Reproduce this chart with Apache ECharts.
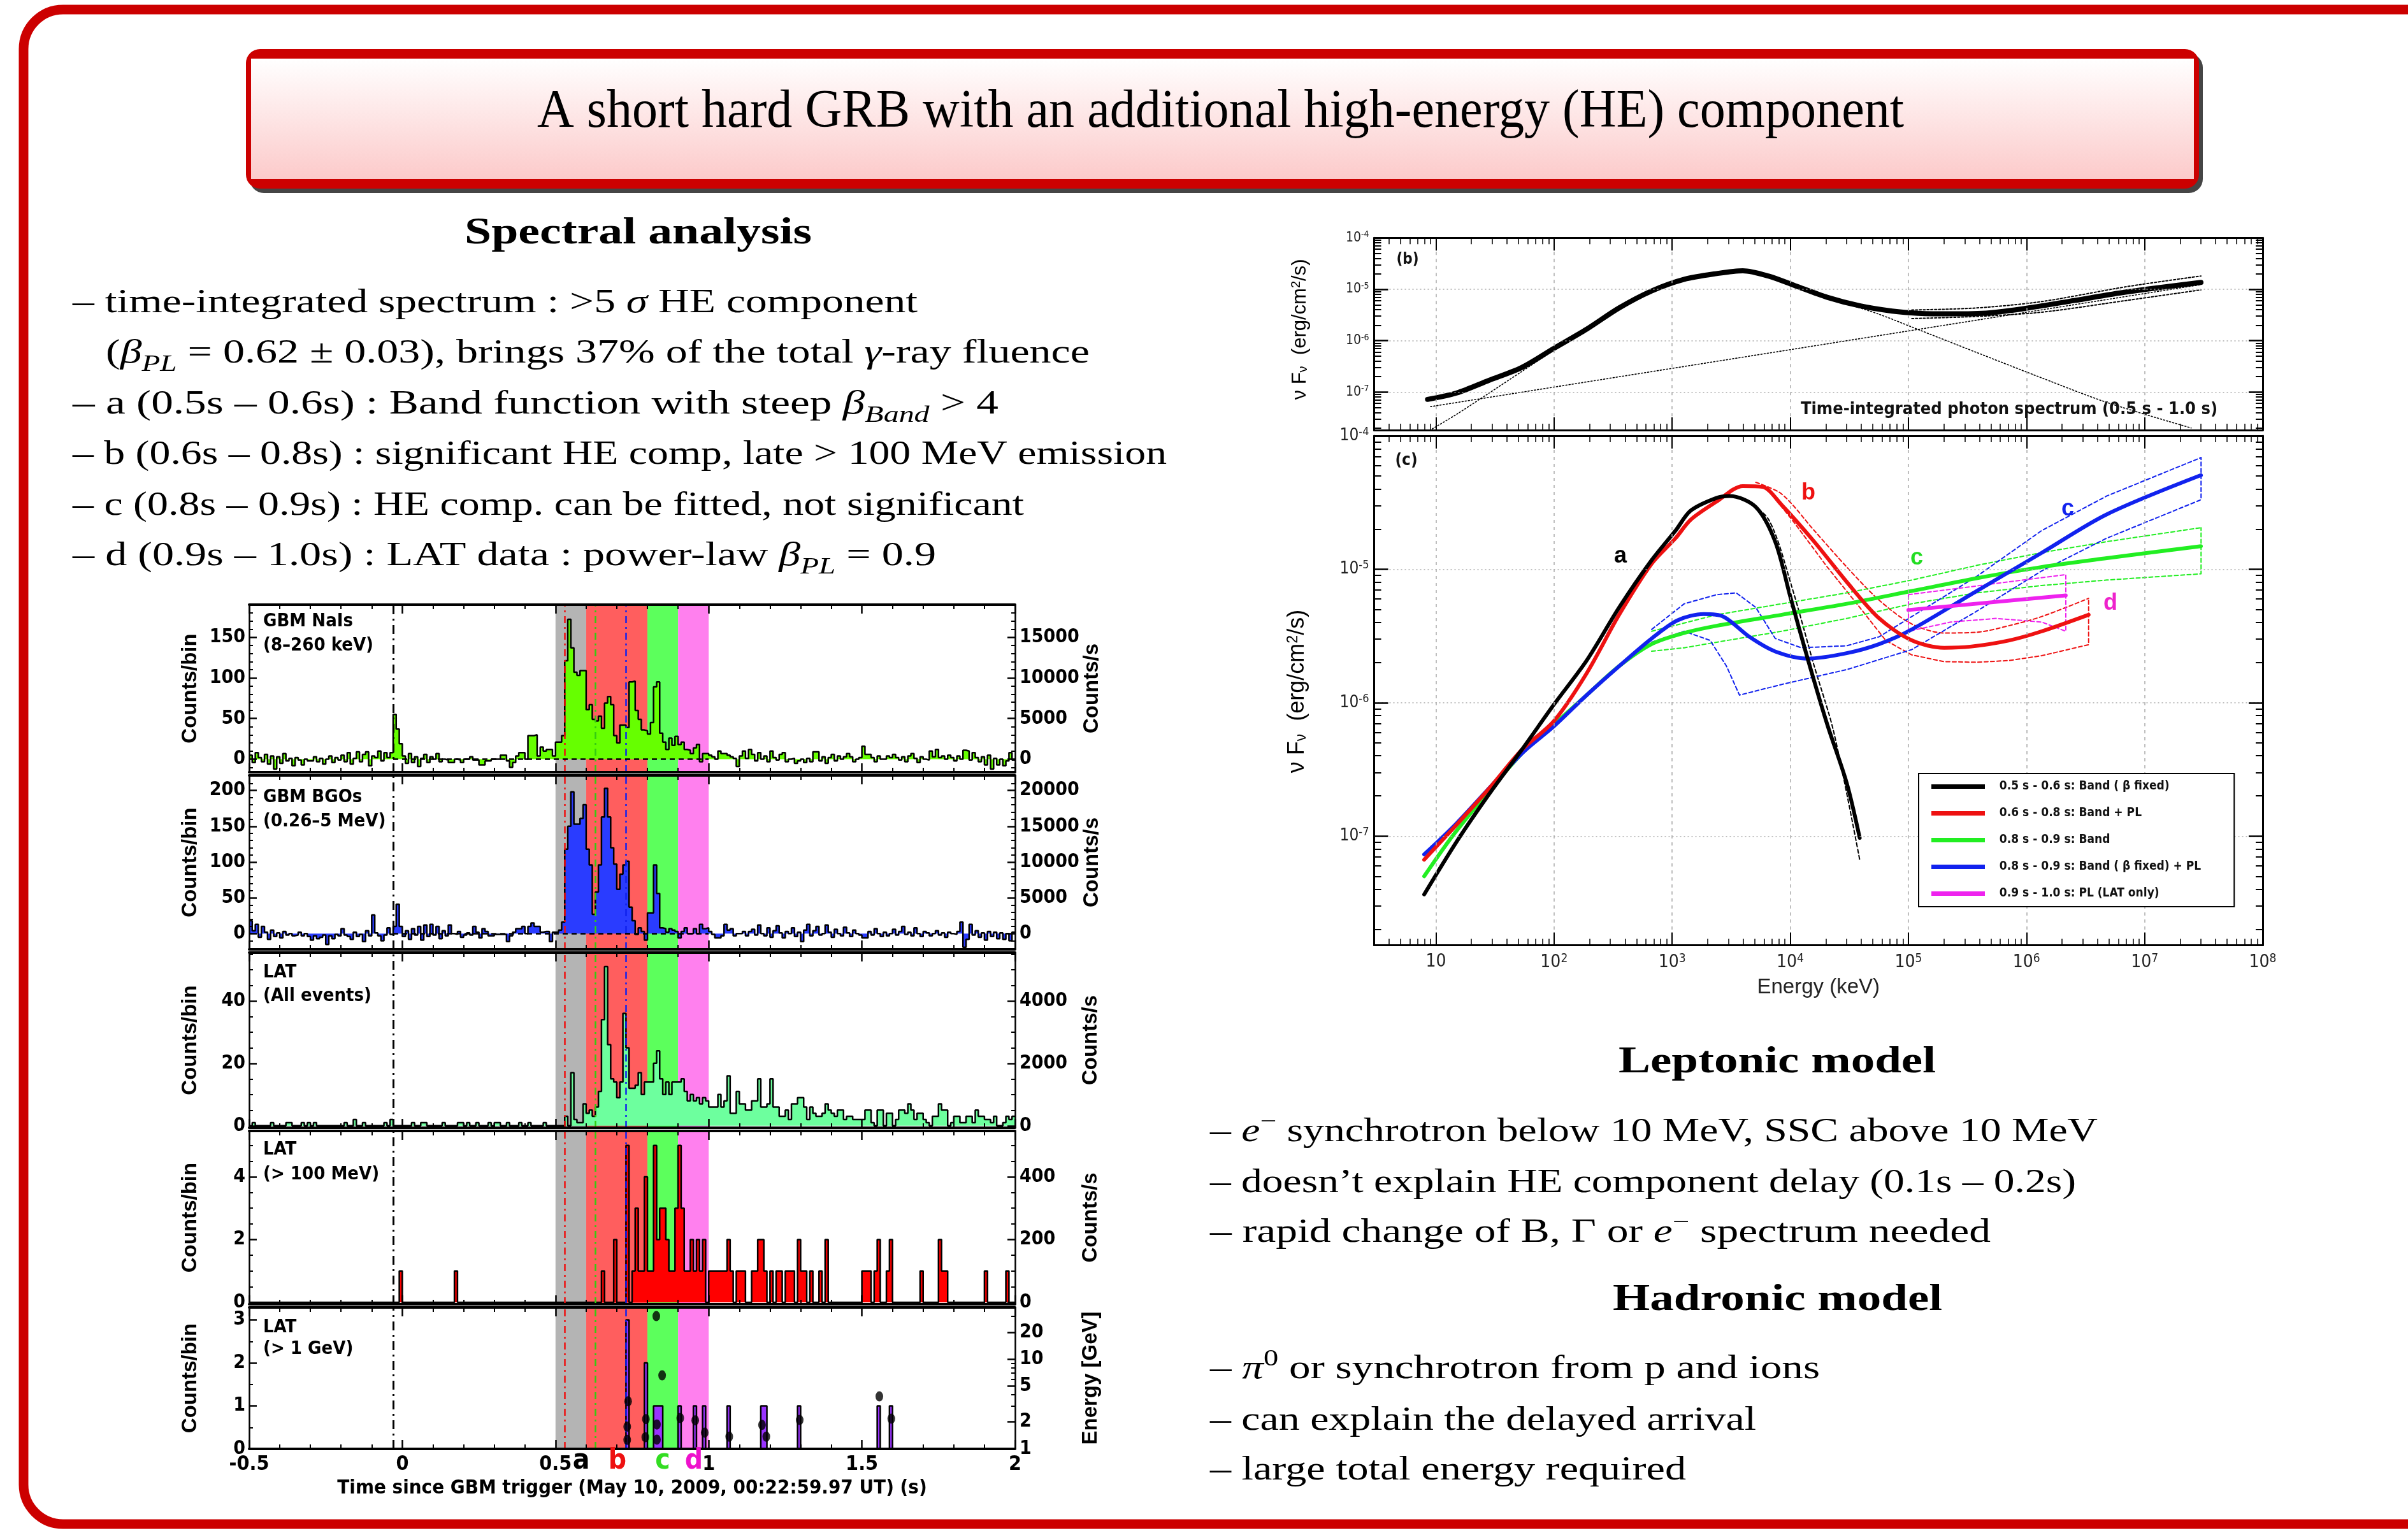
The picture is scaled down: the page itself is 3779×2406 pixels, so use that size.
<!DOCTYPE html>
<html>
<head>
<meta charset="utf-8">
<script src="https://cdn.jsdelivr.net/npm/echarts@6.0.0/dist/echarts.min.js"></script>
<style>
html,body{margin:0;padding:0;background:#ffffff;}
#chart{width:3779px;height:2406px;}
</style>
</head>
<body>
<div id="chart"></div>
<script>
// ======================= DATA =======================
// Light curves: 0.01 s bins starting at t = -0.50 s (250 bins up to 2.0 s)
const T_START = -0.5, T_STEP = 0.01, T_END = 2.0;

// GBM NaIs (8-260 keV), counts/bin
const gbmNaiCounts = [
  5,-4,8,2,-3,6,-6,4,-12,3,-5,7,-2,1,-8,2,-1,-7,0,-2,-2,3,-3,1,-6,0,4,-4,2,-1,5,-3,8,-6,1,9,-3,6,9,-8,4,2,10,-2,8,2,8,
  55,37,19,4,-5,7,-4,3,-9,1,6,-4,3,0,7,-3,0,-1,-4,-4,0,-1,-4,0,0,3,
  -1,-1,-7,-7,-2,-2,0,0,0,5, 5,-2,-10,-4,4,8,8,0,29,29, 30,4,15,10,12,12,4,21,21,29,
  121,172,137,107,103,109,109,61,67,49, 47,53,38,69,77,67,29,20,42,42, 39,95,96,60,49,36,35,31,45,89,
  95,32,21,12,26,17,28,18,21,12, 11,7,14,18,-3,7,7,5,3,0, 10,7,7,5,3,1,-9,4,10,1, 12,
  6,-2,8,0,4,-3,10,2,-1,6, 8,-3,0,1,-5,-2,0,-4,1,-3, 9,9,-2,3,-5,2,6,-2,4,0, 3,7,3,-3,0,2,16,6,6,2,
  -3,4,0,0,4,2,6,2,-1,3, -3,4,7,1,-4,3,0,-1,10,3, 12,2,4,0,5,2,-2,4,0,11, 10,-1,8,2,-3,3,-7,5,-12,1,
  -7,0,-8,-2,8,-1
];
// GBM BGOs (0.26-5 MeV), counts/bin
const gbmBgoCounts = [
  18,4,13,-5,10,2,-8,5,-4,1, -6,3,-2,0,-3,-2,2,-3,0,-4, -9,-3,-7,-5,-2,-15,-3,-7,-1,-3, 7,-2,-4,-8,2,-4,-1,-11,4,-3,
  26,1,-3,-10,-2,8,-1,10,41,10, -4,4,-8,7,-2,10,-9,12,-4,13, -2,10,-7,4,-3,12,0,-1,3,-5, -2,1,-2,
  10,2,-6,7,3,-3,-3,-1,-1,-1, -1,-11,-3,2,7,7,10,0,10,15, 10,10,2,3,3,-11,2,2,5,16,
  118,150,198,153,153,161,180,118,96,27, 58,96,163,203,163,120,97,62,83,96, 101,37,18,-1,8,3,-9,29,29,96,
  56,8,7,2,7,5,3,-6,3,8, 0,0,7,0,13,7,8,3,-1,-6, -6,-3,13,5,7,-3,0,0,3,-3, 3,
  6,-2,12,0,-3,8,-5,4,11,1, -6,3,0,8,-4,2,-11,5,13,-3, 4,10,-2,0,12,2,-5,6,0,-3, 9,1,-4,5,0,-2,-6,-6,3,-2,
  7,0,-4,2,-3,0,6,-2,3,10, -1,2,-3,8,0,-4,3,1,-3,0, 4,-2,1,-5,2,0,-1,3,16,-19, -8,13,-2,4,-5,1,-9,3,-4,2,
  -7,1,-8,0,-10,2
];
// LAT all events, counts/bin
const latAllCounts = [
  0,1,0,0,0,0,0,1,0,0, 0,0,1,1,0,0,0,1,0,1, 0,1,0,0,0,0,0,0,0,0, 0,1,0,0,2,0,0,1,0,0, 0,0,0,0,1,0,2,0,0,0,
  0,0,0,1,0,0,1,1,0,0, 0,0,0,1,0,0,0,0,1,1, 0,1,0,0,1,0,0,0,1,0, 1,1,0,0,1,0,0,0,1,0, 0,1,0,0,0,0,1,0,0,0,
  0,0,0,3,0,17,2,1,1,7, 4,5,3,6,11,34,51,26,15,14, 9,14,36,25,12,12,13,17,10,14, 14,14,20,24,15,10,14,10,14,14,
  14,15,11,8,10,8,9,7,9,8,
  6,6,6,10,6,8,16,4,4,11,7,7,5,5,
  8,8,15,6,6,7,15,6,6,3, 3,5,2,7,7,9,9,6,2,6, 4,3,3,4,7,5,4,3,5,5, 2,3,3,2,2,2,2,5,5,1,
  0,5,5,0,4,4,0,2,5,5, 4,7,5,2,4,4,2,1,0,3, 3,7,5,5,0,1,3,3,1,1, 3,3,1,5,3,3,2,2,1,3, 0,0,1,3,2,3
];
// LAT > 100 MeV: non-empty bins (bin start time, counts)
const lat100Times = [-0.01,0.17,0.65,0.69,0.73,0.75,0.76,0.77,0.78,0.79,0.80,0.81,0.82,0.83,0.84,0.85,0.86,0.87,0.88,0.89,0.90,0.91,0.92,0.93,0.94,0.95,0.96,0.97,0.98,
  1.00,1.01,1.02,1.03,1.04,1.05,1.06,1.07,1.09,1.10,1.11,1.14,1.15,1.16,1.17,1.18,1.20,1.22,1.23,1.25,1.26,1.27,1.29,1.30,1.31,1.33,1.36,1.38,
  1.50,1.51,1.52,1.54,1.55,1.58,1.59,1.69,1.75,1.76,1.77,1.90,1.97];
const lat100Counts = [1,1,1,2,5,1,3,1,1,4,1,1,5,2,3,3,2,1,1,3,5,3,1,1,2,1,2,1,2,
  1,1,1,1,1,1,2,1,1,1,1,1,1,2,2,1,1,1,1,1,1,1,2,1,1,1,1,2,
  1,1,1,1,2,1,2,1,2,1,1,1,1];
// LAT > 1 GeV: non-empty bins
const lat1GeVTimes = [0.73,0.79,0.82,0.83,0.84,0.90,0.95,0.98,1.06,1.17,1.18,1.29,1.55,1.59];
const lat1GeVCounts = [3,2,1,1,1,1,1,1,1,1,1,1,1,1];
// individual > 1 GeV photons: arrival time (s), energy (GeV)
const photonTimes    = [0.734,0.734,0.737,0.793,0.795,0.829,0.848,0.831,0.831,0.907,0.956,0.987,1.067,1.174,1.188,1.297,1.557,1.596];
const photonEnergies = [1.26, 1.77, 3.39, 1.35, 2.15, 30.2, 6.6,  1.87, 1.27, 2.21, 2.08, 1.52, 1.37, 1.85, 1.37, 2.10, 3.85, 2.17];

// time intervals a,b,c,d and marker lines
const bandStarts = [0.5, 0.6, 0.8, 0.9];
const bandEnds   = [0.6, 0.8, 0.9, 1.0];
const bandColors = ['#b4b4b4', '#ff5e5e', '#5cff5c', '#ff80ee'];
const markerTimes  = [-0.03, 0.531, 0.633, 0.732];
const markerColors = ['#000000', '#ee1111', '#33cc11', '#1122ee'];

// ---- Spectra, panel (b): time-integrated 0.5-1.0 s (keV, erg/cm2/s)
const specB_totalE = [8.5,15,28.3,53.2,100,189,356,671,1265,2386,3963,6577,10920,20570,38740,72940,121000,229000,489000,1040000,2540000,7000000,30000000];
const specB_totalF = [7.2e-8,9.6e-8,1.7e-7,3.0e-7,7.1e-7,1.67e-6,4.33e-6,9.27e-6,1.56e-5,2.02e-5,2.29e-5,1.8e-5,1.18e-5,6.97e-6,4.77e-6,3.76e-6,3.41e-6,3.32e-6,3.48e-6,4.33e-6,6.04e-6,8.84e-6,1.36e-5];
const specB_bandE = [9.3,15,28.3,53.2,100,189,356,671,1265,2386,3963,8470,30060,56620,107000,379000,1350000,4790000,24800000];
const specB_bandF = [1.92e-8,3.7e-8,9.6e-8,2.5e-7,6.5e-7,1.6e-6,4.3e-6,9.2e-6,1.55e-5,2.0e-5,2.25e-5,1.42e-5,5.24e-6,3.26e-6,1.84e-6,5.88e-7,1.88e-7,6.28e-8,2.0e-8];
const specB_plE = [9.0, 30000000];
const specB_plF = [5.2e-8, 1.23e-5];
const specB_upE = [107000,379000,1350000,7000000,30000000];
const specB_upF = [3.94e-6,4.33e-6,5.77e-6,1.12e-5,1.81e-5];
const specB_loE = [107000,379000,1350000,7000000,30000000];
const specB_loF = [2.69e-6,2.96e-6,3.58e-6,6.04e-6,9.73e-6];

// ---- Spectra, panel (c): time-resolved
const specA_E = [7.96,15,28.3,53.2,100,189,356,671,1070,1436,2386,3076,5100,7460,10000,14060,20570,30060,38740];
const specA_F = [3.66e-8,9.1e-8,2.07e-7,4.42e-7,9.7e-7,2.07e-6,5.17e-6,1.17e-5,1.95e-5,2.75e-5,3.43e-5,3.54e-5,2.93e-5,1.61e-5,6.25e-6,2.13e-6,6.87e-7,2.5e-7,9.7e-8];
const specA_dashE = [3963,6577,10230,15960,23330,38730];
const specA_dashF = [3.43e-5,2.35e-5,7.55e-6,1.88e-6,6.05e-7,6.65e-8];
const specBPL_E = [7.96,15,28.3,53.2,100,189,356,671,1070,1436,2386,3963,5800,8470,15950,30060,56620,107000,201000,334000,715000,1350000,3360000];
const specBPL_F = [6.66e-8,1.22e-7,2.28e-7,4.42e-7,7.3e-7,1.66e-6,4.56e-6,1.1e-5,1.71e-5,2.35e-5,3.22e-5,4.2e-5,4.15e-5,3.03e-5,1.61e-5,8.04e-6,4.28e-6,2.93e-6,2.58e-6,2.63e-6,2.93e-6,3.43e-6,4.56e-6];
const specBPL_upE = [5105,8472,15960,30060,56620,106900,201400,379300,714500,1346000,3357000];
const specBPL_upF = [4.48e-5,3.66e-5,1.95e-5,1.04e-5,5.86e-6,3.89e-6,3.33e-6,3.37e-6,3.78e-6,4.42e-6,6.05e-6];
const specBPL_loE = [6577,10920,20560,38730,64270,106900,201400,379300,714500,1346000,3357000,3357000];
const specBPL_loF = [3.89e-5,2.21e-5,1.04e-5,5.18e-6,2.93e-6,2.28e-6,2.03e-6,2.01e-6,2.07e-6,2.25e-6,2.72e-6,6.05e-6];
const specCband_E = [7.96,15,53.2,100,189,356,671,1265,2386,8470,30060,107000,379000,1350000,4790000,30000000];
const specCband_F = [5.0e-8,1.1e-7,4.15e-7,6.87e-7,1.14e-6,1.88e-6,2.75e-6,3.33e-6,3.77e-6,4.56e-6,5.51e-6,6.87e-6,8.57e-6,1.04e-5,1.21e-5,1.49e-5];
const specCband_upE = [671,2386,8472,30060,106900,379300,1346000,4786000,30060000];
const specCband_upF = [3.43e-6,4.56e-6,5.51e-6,6.65e-6,8.30e-6,1.069e-5,1.333e-5,1.61e-5,2.05e-5];
const specCband_loE = [671,1265,2386,8472,30060,106900,379300,1346000,4786000,30060000,30060000];
const specCband_loF = [2.43e-6,2.58e-6,2.84e-6,3.43e-6,4.28e-6,5.51e-6,6.65e-6,7.55e-6,8.30e-6,9.24e-6,2.05e-5];
const specCpl_E = [7.96,15,53.2,100,189,356,671,1114,1849,2709,4497,7460,14060,30060,56620,107000,379000,1350000,4790000,30000000];
const specCpl_F = [7.3e-8,1.25e-7,4.15e-7,6.66e-7,1.14e-6,1.88e-6,3.03e-6,4.15e-6,4.61e-6,4.42e-6,3.12e-6,2.42e-6,2.14e-6,2.35e-6,2.75e-6,3.54e-6,6.87e-6,1.33e-5,2.58e-5,5.07e-5];
const specCpl_upE = [671,1265,2386,3493,5105,7464,12390,30060,56620,106900,379300,1346000,4786000,30060000];
const specCpl_upF = [3.54e-6,5.51e-6,6.45e-6,6.65e-6,5.18e-6,3.03e-6,2.58e-6,2.67e-6,3.12e-6,4.42e-6,8.85e-6,1.95e-5,3.54e-5,6.87e-5];
const specCpl_loE = [671,1265,2099,2884,3715,8472,30060,106900,379300,1346000,4786000,30060000,30060000];
const specCpl_loF = [2.84e-6,3.43e-6,2.93e-6,1.88e-6,1.14e-6,1.37e-6,1.77e-6,2.5e-6,4.85e-6,9.72e-6,1.71e-5,3.32e-5,6.87e-5];
const specD_E = [100000, 2150000];
const specD_F = [4.95e-6, 6.37e-6];
const specD_boxE = [100200,2153000,2153000,1346000,554600,228600,100200,100200];
const specD_boxF = [6.45e-6,9.12e-6,3.43e-6,4.02e-6,4.28e-6,4.02e-6,3.43e-6,6.45e-6];
const legendNames = ['0.5 s - 0.6 s: Band ( \u03b2 fixed)', '0.6 s - 0.8 s: Band + PL', '0.8 s - 0.9 s: Band', '0.8 s - 0.9 s: Band ( \u03b2 fixed) + PL', '0.9 s - 1.0 s: PL (LAT only)'];

// ======================= HELPERS =======================
const NARROW = "'Liberation Sans Narrow','DejaVu Sans Condensed','Liberation Sans',Arial,sans-serif";
const SANS = "'Liberation Sans','DejaVu Sans',Arial,sans-serif";
const SERIF = "'Liberation Serif','DejaVu Serif',serif";

function binsToLine(vals){
  const d = vals.map((v,i)=>[+(T_START + i*T_STEP).toFixed(2), v]);
  d.push([T_END, vals[vals.length-1]]);
  return d;
}
function sparseToBins(times, counts){
  const a = new Array(250).fill(0);
  times.forEach((t,i)=>{ a[Math.round((t - T_START)/T_STEP)] = counts[i]; });
  return a;
}
function zip(E,F){ return E.map((e,i)=>[e, F[i]]); }

const grids=[], xAxes=[], yAxes=[], series=[], graphics=[];
function addGrid(l,t,w,h){ grids.push({left:l, top:t, width:w, height:h, show:false, containLabel:false}); return grids.length-1; }
function addX(o){ xAxes.push(o); return xAxes.length-1; }
function addY(o){ yAxes.push(o); return yAxes.length-1; }

// ---------- slide text layout (serif, LaTeX-like) ----------
const mctx = document.createElement('canvas').getContext('2d');
function fontStr(kind, size){
  const st = (kind==='i' || kind==='sub') ? 'italic ' : '';
  const wt = (kind==='b') ? 'bold ' : '';
  return st + wt + size + 'px ' + SERIF;
}
function slideLine(segs, x0, x1, baseline, size){
  const parts = segs.map(([t,k])=>{
    const small = (k==='sub' || k==='sup');
    const fs = small ? Math.round(size*0.7) : size;
    const f = fontStr(k, fs);
    mctx.font = f;
    return {t, k, fs, f, w: mctx.measureText(t).width};
  });
  const natural = parts.reduce((s,p)=>s+p.w, 0);
  const sx = (x1 - x0)/natural;
  let x = x0;
  parts.forEach(p=>{
    let base = baseline;
    if(p.k==='sub') base += size*0.22;
    if(p.k==='sup') base -= size*0.40;
    graphics.push({type:'text', x:x, y:base - p.fs*0.34, scaleX:sx, silent:true, z:5,
      style:{text:p.t, font:p.f, fill:'#000', align:'left', verticalAlign:'middle'}});
    x += p.w*sx;
  });
}

// ---------- frame and title box ----------
graphics.push({type:'rect', silent:true, z:-10, shape:{x:37,y:15,width:3820,height:2377,r:62}, style:{fill:'none', stroke:'#cc0000', lineWidth:15}});
graphics.push({type:'rect', silent:true, z:-9, shape:{x:392,y:84,width:3065,height:219,r:22}, style:{fill:'#454545'}});
graphics.push({type:'rect', silent:true, z:-8, shape:{x:386,y:77,width:3065,height:219,r:22}, style:{fill:'#cc0000'}});
graphics.push({type:'rect', silent:true, z:-7, shape:{x:394,y:92,width:3049,height:189},
  style:{fill:new echarts.graphic.LinearGradient(0,0,0,1,[{offset:0,color:'#ffffff'},{offset:1,color:'#fccaca'}])}});

slideLine([['A short hard GRB with an additional high-energy (HE) component','n']], 843, 2988, 205, 84);
slideLine([['Spectral analysis','b']], 729, 1274, 387, 60);
slideLine([['\u2013 time-integrated spectrum : >5 ','n'],['\u03c3','i'],[' HE component','n']], 114, 1440, 494, 52);
slideLine([['(','n'],['\u03b2','i'],['PL','sub'],[' = 0.62 \u00b1 0.03), brings 37% of the total ','n'],['\u03b3','i'],['-ray fluence','n']], 166, 1710, 573, 52);
slideLine([['\u2013 a (0.5s \u2013 0.6s) : Band function with steep ','n'],['\u03b2','i'],['Band','sub'],[' > 4','n']], 114, 1567, 653, 52);
slideLine([['\u2013 b (0.6s \u2013 0.8s) : significant HE comp, late > 100 MeV emission','n']], 114, 1831, 732, 52);
slideLine([['\u2013 c (0.8s \u2013 0.9s) : HE comp. can be fitted, not significant','n']], 114, 1607, 812, 52);
slideLine([['\u2013 d (0.9s \u2013 1.0s) : LAT data : power-law ','n'],['\u03b2','i'],['PL','sub'],[' = 0.9','n']], 114, 1469, 891, 52);

slideLine([['Leptonic model','b']], 2540, 3038, 1688, 60);
slideLine([['\u2013 ','n'],['e','i'],['\u2212','sup'],[' synchrotron below 10 MeV, SSC above 10 MeV','n']], 1899, 3292, 1795, 52);
slideLine([['\u2013 doesn\u2019t explain HE component delay (0.1s \u2013 0.2s)','n']], 1899, 3258, 1875, 52);
slideLine([['\u2013 rapid change of B, \u0393 or ','n'],['e','i'],['\u2212','sup'],[' spectrum needed','n']], 1899, 3124, 1953, 52);
slideLine([['Hadronic model','b']], 2531, 3048, 2061, 60);
slideLine([['\u2013 ','n'],['\u03c0','i'],['0','sup'],[' or synchrotron from p and ions','n']], 1899, 2856, 2167, 52);
slideLine([['\u2013 can explain the delayed arrival','n']], 1899, 2756, 2248, 52);
slideLine([['\u2013 large total energy required','n']], 1899, 2646, 2326, 52);

// ======================= LIGHT CURVES =======================
const LC_LEFT = 391, LC_WIDTH = 1202;
const lat100Bins = sparseToBins(lat100Times, lat100Counts);
const lat1GeVBins = sparseToBins(lat1GeVTimes, lat1GeVCounts);

const lcPanels = [
  {top:949, bottom:1212, min:-16, max:190, labels:[0,50,100,150], minor:[-10,10,20,30,40,60,70,80,90,110,120,130,140,160,170,180],
   rlabels:[0,5000,10000,15000], data:gbmNaiCounts, fill:'#66ff00', title:['GBM NaIs','(8\u2013260 keV)'], tdy:[26,64], zero:true},
  {top:1217, bottom:1490, min:-22, max:221, labels:[0,50,100,150,200], minor:[-10,10,20,30,40,60,70,80,90,110,120,130,140,160,170,180,190,210],
   rlabels:[0,5000,10000,15000,20000], data:gbmBgoCounts, fill:'#2a3cff', title:['GBM BGOs','(0.26\u20135 MeV)'], tdy:[34,72], zero:true},
  {top:1495, bottom:1770, min:-0.65, max:55.5, labels:[0,20,40], minor:[5,10,15,25,30,35,45,50,55],
   rlabels:[0,2000,4000], data:latAllCounts, fill:'#6dff9e', title:['LAT','(All events)'], tdy:[31,68]},
  {top:1775, bottom:2047, min:-0.06, max:5.46, labels:[0,2,4], minor:[0.5,1,1.5,2.5,3,3.5,4.5,5],
   rlabels:[0,200,400], data:lat100Bins, fill:'#ff0000', title:['LAT','(> 100 MeV)'], tdy:[29,68]},
  {top:2052, bottom:2274, min:0, max:3.29, labels:[0,1,2,3], minor:[0.5,1.5,2.5],
   rlabels:null, data:lat1GeVBins, fill:'#9933ff', title:['LAT','(> 1 GeV)'], tdy:[31,65]}
];

const tickLabelStyle = {fontSize:30, fontWeight:'bold', fontFamily:NARROW, color:'#000'};
const axisNameStyle = {fontSize:33, fontWeight:'bold', fontFamily:SANS, color:'#000'};
const plainNum = (v)=>String(v);

lcPanels.forEach((p, pi)=>{
  const last = (pi === lcPanels.length-1);
  const gi = addGrid(LC_LEFT, p.top, LC_WIDTH, p.bottom - p.top);
  const xCommon = {gridIndex:gi, type:'value', min:-0.5, max:2, interval:0.5, z:10,
    axisLine:{show:true, onZero:false, lineStyle:{color:'#000', width:4}},
    axisTick:{show:true, inside:true, length:14, lineStyle:{color:'#000', width:2.5}},
    minorTick:{show:true, splitNumber:5, length:7, lineStyle:{color:'#000', width:2}},
    splitLine:{show:false}, minorSplitLine:{show:false}};
  const xb = addX(Object.assign({}, xCommon, {position:'bottom',
    axisLabel: last ? Object.assign({show:true, margin:9, formatter:plainNum}, tickLabelStyle, {fontSize:32}) : {show:false},
    name: last ? 'Time since GBM trigger (May 10, 2009, 00:22:59.97 UT) (s)' : '',
    nameLocation:'middle', nameGap:46, nameTextStyle:{fontSize:31, fontWeight:'bold', fontFamily:NARROW, color:'#000'}}));
  addX(Object.assign({}, xCommon, {position:'top', axisLabel:{show:false}}));

  const yl = addY({gridIndex:gi, type:'value', min:p.min, max:p.max, position:'left', z:10,
    axisLine:{show:true, onZero:false, lineStyle:{color:'#000', width:2.5}},
    axisTick:{show:true, inside:true, length:12, customValues:p.labels, lineStyle:{color:'#000', width:2.5}},
    axisLabel:Object.assign({show:true, customValues:p.labels, margin:6, formatter:plainNum}, tickLabelStyle),
    splitLine:{show:false},
    name:'Counts/bin', nameLocation:'middle', nameRotate:90, nameGap:76, nameTextStyle:axisNameStyle});
  addY({gridIndex:gi, type:'value', min:p.min, max:p.max, position:'left', z:10,
    axisLine:{show:false, onZero:false}, axisLabel:{show:false}, splitLine:{show:false},
    axisTick:{show:true, inside:true, length:6, customValues:p.minor, lineStyle:{color:'#000', width:2}}});

  if (p.rlabels){
    addY({gridIndex:gi, type:'value', min:p.min*100, max:p.max*100, position:'right', z:10,
      axisLine:{show:true, onZero:false, lineStyle:{color:'#000', width:2.5}},
      axisTick:{show:true, inside:true, length:12, customValues:p.rlabels, lineStyle:{color:'#000', width:2.5}},
      axisLabel:Object.assign({show:true, customValues:p.rlabels, margin:7, formatter:plainNum}, tickLabelStyle),
      splitLine:{show:false},
      name:'Counts/s', nameLocation:'middle', nameRotate:90, nameGap:102, nameTextStyle:axisNameStyle});
    addY({gridIndex:gi, type:'value', min:p.min*100, max:p.max*100, position:'right', z:10,
      axisLine:{show:false, onZero:false}, axisLabel:{show:false}, splitLine:{show:false},
      axisTick:{show:true, inside:true, length:6, customValues:p.minor.map(v=>v*100), lineStyle:{color:'#000', width:2}}});
  } else {
    const ye = addY({gridIndex:gi, type:'log', logBase:10, min:1, max:37.7, position:'right', z:10,
      axisLine:{show:true, onZero:false, lineStyle:{color:'#000', width:2.5}},
      axisTick:{show:true, inside:true, length:12, customValues:[1,2,5,10,20], lineStyle:{color:'#000', width:2.5}},
      axisLabel:Object.assign({show:true, customValues:[1,2,5,10,20], margin:7, formatter:plainNum}, tickLabelStyle),
      splitLine:{show:false},
      name:'Energy [GeV]', nameLocation:'middle', nameRotate:90, nameGap:102, nameTextStyle:axisNameStyle});
    addY({gridIndex:gi, type:'log', logBase:10, min:1, max:37.7, position:'right', z:10,
      axisLine:{show:false, onZero:false}, axisLabel:{show:false}, splitLine:{show:false},
      axisTick:{show:true, inside:true, length:6, customValues:[3,4,6,7,8,9,30], lineStyle:{color:'#000', width:2}}});
    series.push({type:'scatter', xAxisIndex:xb, yAxisIndex:ye, silent:true, z:6,
      data: photonTimes.map((t,i)=>[t, photonEnergies[i]]),
      symbol:'circle', symbolSize:[12,16], itemStyle:{color:'#000'}});
  }

  // background intervals + marker lines
  const mlData = markerTimes.map((t,i)=>({xAxis:t, lineStyle:{color:markerColors[i], width: i===0?3:2.5, type: i===0?[14,7,3,7]:[11,6,3,6]}}));
  if (p.zero) mlData.push([{coord:[-0.03,0], lineStyle:{color:'#000', width:2.5, type:[8,6]}},{coord:[1.0,0]}]);
  series.push({type:'line', xAxisIndex:xb, yAxisIndex:yl, data:[], silent:true, showSymbol:false,
    markArea:{silent:true, label:{show:false}, z:1,
      data: bandStarts.map((s,i)=>[{xAxis:s, itemStyle:{color:bandColors[i], opacity:1}},{xAxis:bandEnds[i]}])},
    markLine:{silent:true, symbol:['none','none'], label:{show:false}, z:5, data: mlData}});

  // histogram
  series.push({type:'line', xAxisIndex:xb, yAxisIndex:yl, data:binsToLine(p.data), step:'end', silent:true,
    symbol:'none', showSymbol:false, z:3, lineStyle:{color:'#000', width:2.5},
    areaStyle:{color:p.fill, opacity:1}});

  // panel labels
  p.title.forEach((t,k)=>{
    graphics.push({type:'text', x:413, y:p.top + p.tdy[k], silent:true, z:20,
      style:{text:t, font:"bold 29px " + NARROW, fill:'#000', align:'left', verticalAlign:'middle'}});
  });
});

// interval letters under the time axis
[['a',912,'#000000'],['b',969,'#ee1111'],['c',1040,'#33dd22'],['d',1089,'#ee11cc']].forEach(([t,x,c])=>{
  graphics.push({type:'text', x:x, y:2294, silent:true, z:20,
    style:{text:t, font:"bold 44px " + NARROW, fill:c, align:'center', verticalAlign:'middle'}});
});

// ======================= SPECTRA =======================
const SP_LEFT = 2156.5, SP_WIDTH = 1394.5;
const decX = [10,1e2,1e3,1e4,1e5,1e6,1e7,1e8];
const minX = []; for (let e=0;e<8;e++){ for (let m=2;m<=9;m++){ const v=m*Math.pow(10,e); if (v>=3 && v<1e8) minX.push(v); } }
const decY = [1e-7,1e-6,1e-5,1e-4];
const minY = []; for (let e=-8;e<-4;e++){ for (let m=2;m<=9;m++){ minY.push(+(m*Math.pow(10,e)).toPrecision(3)); } }

function specPanel(top, height, ymin, ymax, showX, yFont){
  const gi = addGrid(SP_LEFT, top, SP_WIDTH, height);
  const xBase = {gridIndex:gi, type:'log', logBase:10, min:3, max:1e8, z:10, splitLine:{show:false}};
  const xb = addX(Object.assign({}, xBase, {position:'bottom',
    axisLine:{show:true, onZero:false, lineStyle:{color:'#000', width:3}},
    axisTick:{show:true, inside:true, length:20, customValues:decX, lineStyle:{color:'#000', width:2}},
    splitLine:{show:true, lineStyle:{color:'#aaaaaa', width:1.5, type:[5,6]}},
    axisLabel: showX ? {show:true, customValues:decX, margin:12, fontSize:28, fontFamily:NARROW, color:'#222',
      formatter:(v)=>{ const e=Math.round(Math.log10(v)); return e===1 ? '10' : '10{s|'+e+'}'; },
      rich:{s:{fontSize:19, fontFamily:NARROW, color:'#222', verticalAlign:'top', padding:[0,0,12,0]}}} : {show:false},
    name: showX ? 'Energy (keV)' : '', nameLocation:'middle', nameGap:50,
    nameTextStyle:{fontSize:33, fontFamily:SANS, color:'#222'}}));
  addX(Object.assign({}, xBase, {position:'bottom', axisLine:{show:false,onZero:false}, axisLabel:{show:false},
    axisTick:{show:true, inside:true, length:10, customValues:minX, lineStyle:{color:'#000', width:1.5}}}));
  addX(Object.assign({}, xBase, {position:'top', axisLine:{show:true,onZero:false,lineStyle:{color:'#000',width:3}}, axisLabel:{show:false},
    axisTick:{show:true, inside:true, length:20, customValues:decX, lineStyle:{color:'#000', width:2}}}));
  addX(Object.assign({}, xBase, {position:'top', axisLine:{show:false,onZero:false}, axisLabel:{show:false},
    axisTick:{show:true, inside:true, length:10, customValues:minX, lineStyle:{color:'#000', width:1.5}}}));
  const yBase = {gridIndex:gi, type:'log', logBase:10, min:ymin, max:ymax, z:10, splitLine:{show:false}};
  const yl = addY(Object.assign({}, yBase, {position:'left',
    axisLine:{show:true, onZero:false, lineStyle:{color:'#000', width:3}},
    axisTick:{show:true, inside:true, length:22, customValues:decY, lineStyle:{color:'#000', width:2.5}},
    splitLine:{show:true, lineStyle:{color:'#aaaaaa', width:1.5, type:[2,4]}},
    axisLabel:{show:true, customValues:decY, margin:8, fontSize:yFont, fontFamily:NARROW, color:'#222',
      formatter:(v)=>'10{s|'+Math.round(Math.log10(v))+'}',
      rich:{s:{fontSize:Math.round(yFont*0.68), fontFamily:NARROW, color:'#222', verticalAlign:'top', padding:[0,0,Math.round(yFont*0.45),0]}}}}));
  addY(Object.assign({}, yBase, {position:'left', axisLine:{show:false,onZero:false}, axisLabel:{show:false},
    axisTick:{show:true, inside:true, length:11, customValues:minY, lineStyle:{color:'#000', width:2}}}));
  addY(Object.assign({}, yBase, {position:'right', axisLine:{show:true,onZero:false,lineStyle:{color:'#000',width:3}}, axisLabel:{show:false},
    axisTick:{show:true, inside:true, length:22, customValues:decY, lineStyle:{color:'#000', width:2.5}}}));
  addY(Object.assign({}, yBase, {position:'right', axisLine:{show:false,onZero:false}, axisLabel:{show:false},
    axisTick:{show:true, inside:true, length:11, customValues:minY, lineStyle:{color:'#000', width:2}}}));
  return {x:xb, y:yl};
}

const pb = specPanel(373.3, 301.7, 1.82e-8, 1e-4, false, 21);
const pc = specPanel(684, 799.6, 1.52e-8, 1e-4, true, 26);

function specLine(ax, name, E, F, color, width, type, smooth, z){
  series.push({type:'line', name:name, xAxisIndex:ax.x, yAxisIndex:ax.y, data:zip(E,F), color:color,
    silent:true, symbol:'none', showSymbol:false, smooth:smooth ? 0.3 : false,
    lineStyle:{color:color, width:width, type:type, cap:'round', join:'round'}, z:z||3});
}
// panel (b)
specLine(pb, 'b-band', specB_bandE, specB_bandF, '#000', 1.6, [2,3], true, 2);
specLine(pb, 'b-pl', specB_plE, specB_plF, '#000', 1.6, [2,3], false, 2);
specLine(pb, 'b-up', specB_upE, specB_upF, '#000', 2, [3,3], true, 2);
specLine(pb, 'b-lo', specB_loE, specB_loF, '#000', 2, [3,3], true, 2);
specLine(pb, 'b-total', specB_totalE, specB_totalF, '#000', 8, 'solid', true, 4);
// panel (c): dashed uncertainty contours
specLine(pc, 'a-dash', specA_dashE, specA_dashF, '#000', 2, [6,4], true, 2);
specLine(pc, 'b-up-c', specBPL_upE, specBPL_upF, '#ee1111', 2, [6,4], true, 2);
specLine(pc, 'b-lo-c', specBPL_loE, specBPL_loF, '#ee1111', 2, [6,4], false, 2);
specLine(pc, 'g-up', specCband_upE, specCband_upF, '#22ee22', 2, [6,4], false, 2);
specLine(pc, 'g-lo', specCband_loE, specCband_loF, '#22ee22', 2, [6,4], false, 2);
specLine(pc, 'bl-up', specCpl_upE, specCpl_upF, '#1122ee', 2, [6,4], false, 2);
specLine(pc, 'bl-lo', specCpl_loE, specCpl_loF, '#1122ee', 2, [6,4], false, 2);
specLine(pc, 'm-box', specD_boxE, specD_boxF, '#ee22ee', 2, [6,4], false, 2);
// panel (c): best-fit models
specLine(pc, legendNames[2], specCband_E, specCband_F, '#22ee22', 6, 'solid', true, 4);
specLine(pc, legendNames[3], specCpl_E, specCpl_F, '#1122ee', 6, 'solid', true, 4);
specLine(pc, legendNames[4], specD_E, specD_F, '#ee22ee', 6, 'solid', false, 4);
specLine(pc, legendNames[1], specBPL_E, specBPL_F, '#ee1111', 6, 'solid', true, 5);
specLine(pc, legendNames[0], specA_E, specA_F, '#000000', 6, 'solid', true, 5);

// spectra annotations
function gtext(t, x, y, font, color, align, rot){
  graphics.push({type:'text', x:x, y:y, rotation:rot||0, silent:true, z:20,
    style:{text:t, font:font, fill:color||'#000', align:align||'center', verticalAlign:'middle'}});
}
gtext('(b)', 2209, 408, "bold 24px " + NARROW, '#111', 'center');
gtext('(c)', 2207, 723, "bold 26px " + NARROW, '#111', 'center');
gtext('Time-integrated photon spectrum (0.5 s - 1.0 s)', 3153, 643, "bold 27px " + NARROW, '#111', 'center');
gtext('a', 2543, 873, "bold 36px " + SANS, '#000');
gtext('b', 2838, 774, "bold 36px " + SANS, '#ee1111');
gtext('c', 3245, 799, "bold 36px " + SANS, '#1122ee');
gtext('c', 3008, 876, "bold 36px " + SANS, '#22dd22');
gtext('d', 3312, 947, "bold 36px " + SANS, '#ee22cc');
function nuLabel(x, y, fs){
  graphics.push({type:'text', x:x, y:y, rotation:Math.PI/2, silent:true, z:20,
    style:{text:'{a|\u03bd F}{s|\u03bd}{a|  (erg/cm}{p|2}{a|/s)}', align:'center', verticalAlign:'middle',
      rich:{a:{fontSize:fs, fontFamily:SANS, color:'#222'},
            s:{fontSize:Math.round(fs*0.65), fontFamily:SANS, color:'#222', verticalAlign:'bottom'},
            p:{fontSize:Math.round(fs*0.65), fontFamily:SANS, color:'#222', verticalAlign:'top'}}}});
}
nuLabel(2040, 517, 31);
nuLabel(2036, 1085, 36);

// ======================= CHART =======================
const chart = echarts.init(document.getElementById('chart'), null, {renderer:'canvas', width:3779, height:2406});
chart.setOption({
  animation:false,
  backgroundColor:'#ffffff',
  textStyle:{fontFamily:SANS},
  grid:grids, xAxis:xAxes, yAxis:yAxes, series:series,
  legend:{show:true, orient:'vertical', left:3011, top:1214, data:legendNames, icon:'rect', itemWidth:84, itemHeight:7, itemGap:23,
    padding:[11,52,11,20], backgroundColor:'#ffffff', borderColor:'#000', borderWidth:2, selectedMode:false, z:20,
    formatter:(n)=>'   ' + n, textStyle:{fontSize:19, fontWeight:'bold', fontFamily:NARROW, color:'#111'}},
  graphic:{elements:graphics}
});
</script>
</body>
</html>
